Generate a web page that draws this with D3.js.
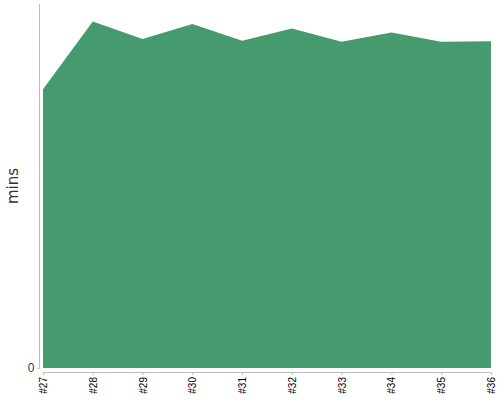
<!doctype html>
<html lang="en">
<head>
<meta charset="utf-8">
<script src="https://d3js.org/d3.v7.min.js"></script>
<style>
  body { margin: 0; background: #fff; }
  svg { font-family: "DejaVu Sans", sans-serif; }
</style>
</head>
<body>
<div id="chart"></div>
<script>
// data
var builds = ['#27', '#28', '#29', '#30', '#31', '#32', '#33', '#34', '#35', '#36'];
var mins = [76.6, 95.2, 90.4, 94.5, 89.9, 93.3, 89.6, 92.2, 89.6, 89.8];
var yTicks = [0];

var svg = d3.select('#chart').append('svg')
    .attr('width', 500)
    .attr('height', 400);

var x = d3.scalePoint().domain(builds).range([43, 491]);
var y = d3.scaleLinear().domain([0, 100]).range([368, 4]);

var data = builds.map(function(b, i) { return {build: b, v: mins[i]}; });

// area
var area = d3.area()
    .x(function(d) { return x(d.build); })
    .y0(y(0))
    .y1(function(d) { return y(d.v); });

svg.append('path')
    .datum(data)
    .attr('d', area)
    .attr('fill', '#459b6d');

// y axis (offset to the left)
var yAxis = svg.append('g')
    .attr('transform', 'translate(39.5,0)')
    .call(d3.axisLeft(y).tickValues(yTicks).tickSize(2).tickPadding(3));
yAxis.select('.domain').attr('stroke', '#bbb').attr('d', 'M0,4V368');
yAxis.selectAll('.tick line').attr('stroke', '#bbb');
yAxis.selectAll('.tick text').attr('fill', '#333').style('font-size', '12px');

// x axis (offset below)
var xAxis = svg.append('g')
    .attr('transform', 'translate(0,372.5)')
    .call(d3.axisBottom(x).tickSize(2.5));
xAxis.select('.domain').attr('stroke', '#bbb').attr('d', 'M43,0H491');
xAxis.selectAll('.tick line').attr('stroke', '#bbb');
xAxis.selectAll('.tick text')
    .attr('fill', '#000')
    .style('font-size', '10px')
    .attr('transform', 'rotate(-90)')
    .attr('text-anchor', 'end')
    .attr('x', -4.5)
    .attr('y', 0)
    .attr('dy', '0.35em');

// y label
svg.append('text')
    .attr('transform', 'translate(18,186) rotate(-90)')
    .attr('text-anchor', 'middle')
    .attr('fill', '#333')
    .style('font-size', '15px')
    .text('mins');
</script>
</body>
</html>
